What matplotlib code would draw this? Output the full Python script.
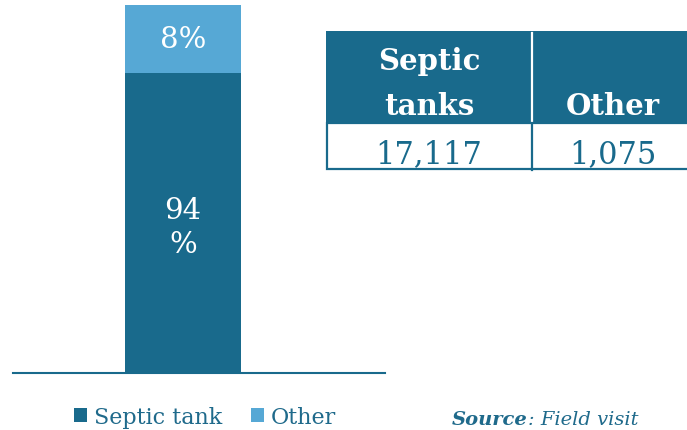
import matplotlib
matplotlib.use("Agg")
import matplotlib.pyplot as plt
from matplotlib.patches import Rectangle, Patch
from matplotlib.transforms import offset_copy

# ---- data ----
categories = ["Septic tank", "Other"]
shares = [94, 8]                      # percent labels shown on the bar
table_headers = ["Septic\ntanks", "Other"]
table_values = [17117, 1075]
source_bold = "Source"
source_rest = ": Field visit"

# ---- style ----
DARK = "#196A8C"
LIGHT = "#56A8D5"
TXT = "#1F6A8B"
FONT = "DejaVu Serif"
plt.rcParams["font.family"] = FONT

W, H = 687, 431
fig = plt.figure(figsize=(W / 100, H / 100), dpi=100)

def fx(px):
    return px / W

def fy(px):
    return 1 - px / H

# ---- stacked bar ----
ax_l, ax_r, ax_t, ax_b = 13, 385, 6, 374
ax = fig.add_axes([fx(ax_l), fy(ax_b), fx(ax_r - ax_l), (ax_b - ax_t) / H])
y_low = 58.7
bottom = 0
colors = [DARK, LIGHT]
for cat, v, c in zip(categories, shares, colors):
    ax.bar(0, v, width=0.6, bottom=bottom, color=c, label=cat, zorder=2)
    lo = max(bottom, y_low)
    mid = (lo + bottom + v) / 2
    if v < 10:
        lab, tr_ = f"{v}%", ax.transData
    else:
        lab = f"{v}\n%"
        tr_ = offset_copy(ax.transData, fig=fig, x=0, y=-4, units="dots")
    ax.text(0, mid, lab, ha="center", va="center", color="white",
            fontsize=21, linespacing=1.3, zorder=3, transform=tr_)
    bottom += v
ax.set_ylim(y_low, bottom)
ax.set_xlim(-0.879, 1.045)
for s in ["left", "right", "top"]:
    ax.spines[s].set_visible(False)
ax.spines["bottom"].set_color(DARK)
ax.spines["bottom"].set_linewidth(1.5)
ax.spines["bottom"].set_zorder(1)
ax.set_xticks([])
ax.set_yticks([])
ax.patch.set_alpha(0)

# ---- legend ----
handles = [Patch(facecolor=c, edgecolor="none") for c in colors]
leg = fig.legend(handles, categories, loc="center",
                 bbox_to_anchor=(fx(205), fy(418)), ncol=2, frameon=False,
                 handlelength=0.6, handleheight=0.6, handletextpad=0.3,
                 columnspacing=1.3, fontsize=16)
for t in leg.get_texts():
    t.set_color(TXT)

# ---- table ----
tl, tr, tt, tm, tb = 326, 694, 32, 124, 171
div = 532
tax = fig.add_axes([fx(tl), fy(tb), fx(tr - tl), (tb - tt) / H])
tax.set_xlim(tl, tr)
tax.set_ylim(tb, tt)
tax.axis("off")
tax.add_patch(Rectangle((tl, tt), tr - tl, tm - tt, facecolor=DARK,
                        edgecolor="none", clip_on=False))
tax.add_patch(Rectangle((tl + 1, tm), tr - tl, tb - tm - 1, facecolor="white",
                        edgecolor=DARK, linewidth=1.6, clip_on=False))
tax.plot([div, div], [tt + 2, tm - 2], color="white", lw=1.6, clip_on=False)
tax.plot([div, div], [tm, tb], color=DARK, lw=1.6, clip_on=False)

centers = [(tl + div) / 2, (div + tr) / 2]
for cx, hdr, val in zip(centers, table_headers, table_values):
    lines = hdr.split("\n")
    base = 115
    for i, line in enumerate(reversed(lines)):
        tax.text(cx, base - 45 * i, line, ha="center", va="baseline",
                 color="white", fontsize=21, fontweight="bold")
    tax.text(cx, 163, f"{val:,}", ha="center", va="baseline",
             color=DARK, fontsize=22)

# ---- source ----
t1 = fig.text(fx(452), fy(425), source_bold, ha="left", va="baseline",
              color=TXT, fontsize=14, fontweight="bold", fontstyle="italic")
fig.canvas.draw()
bb = t1.get_window_extent()
fig.text(bb.x1 / W, fy(425), source_rest, ha="left", va="baseline",
         color=TXT, fontsize=14, fontstyle="italic")

fig.savefig("out.png", dpi=100)
